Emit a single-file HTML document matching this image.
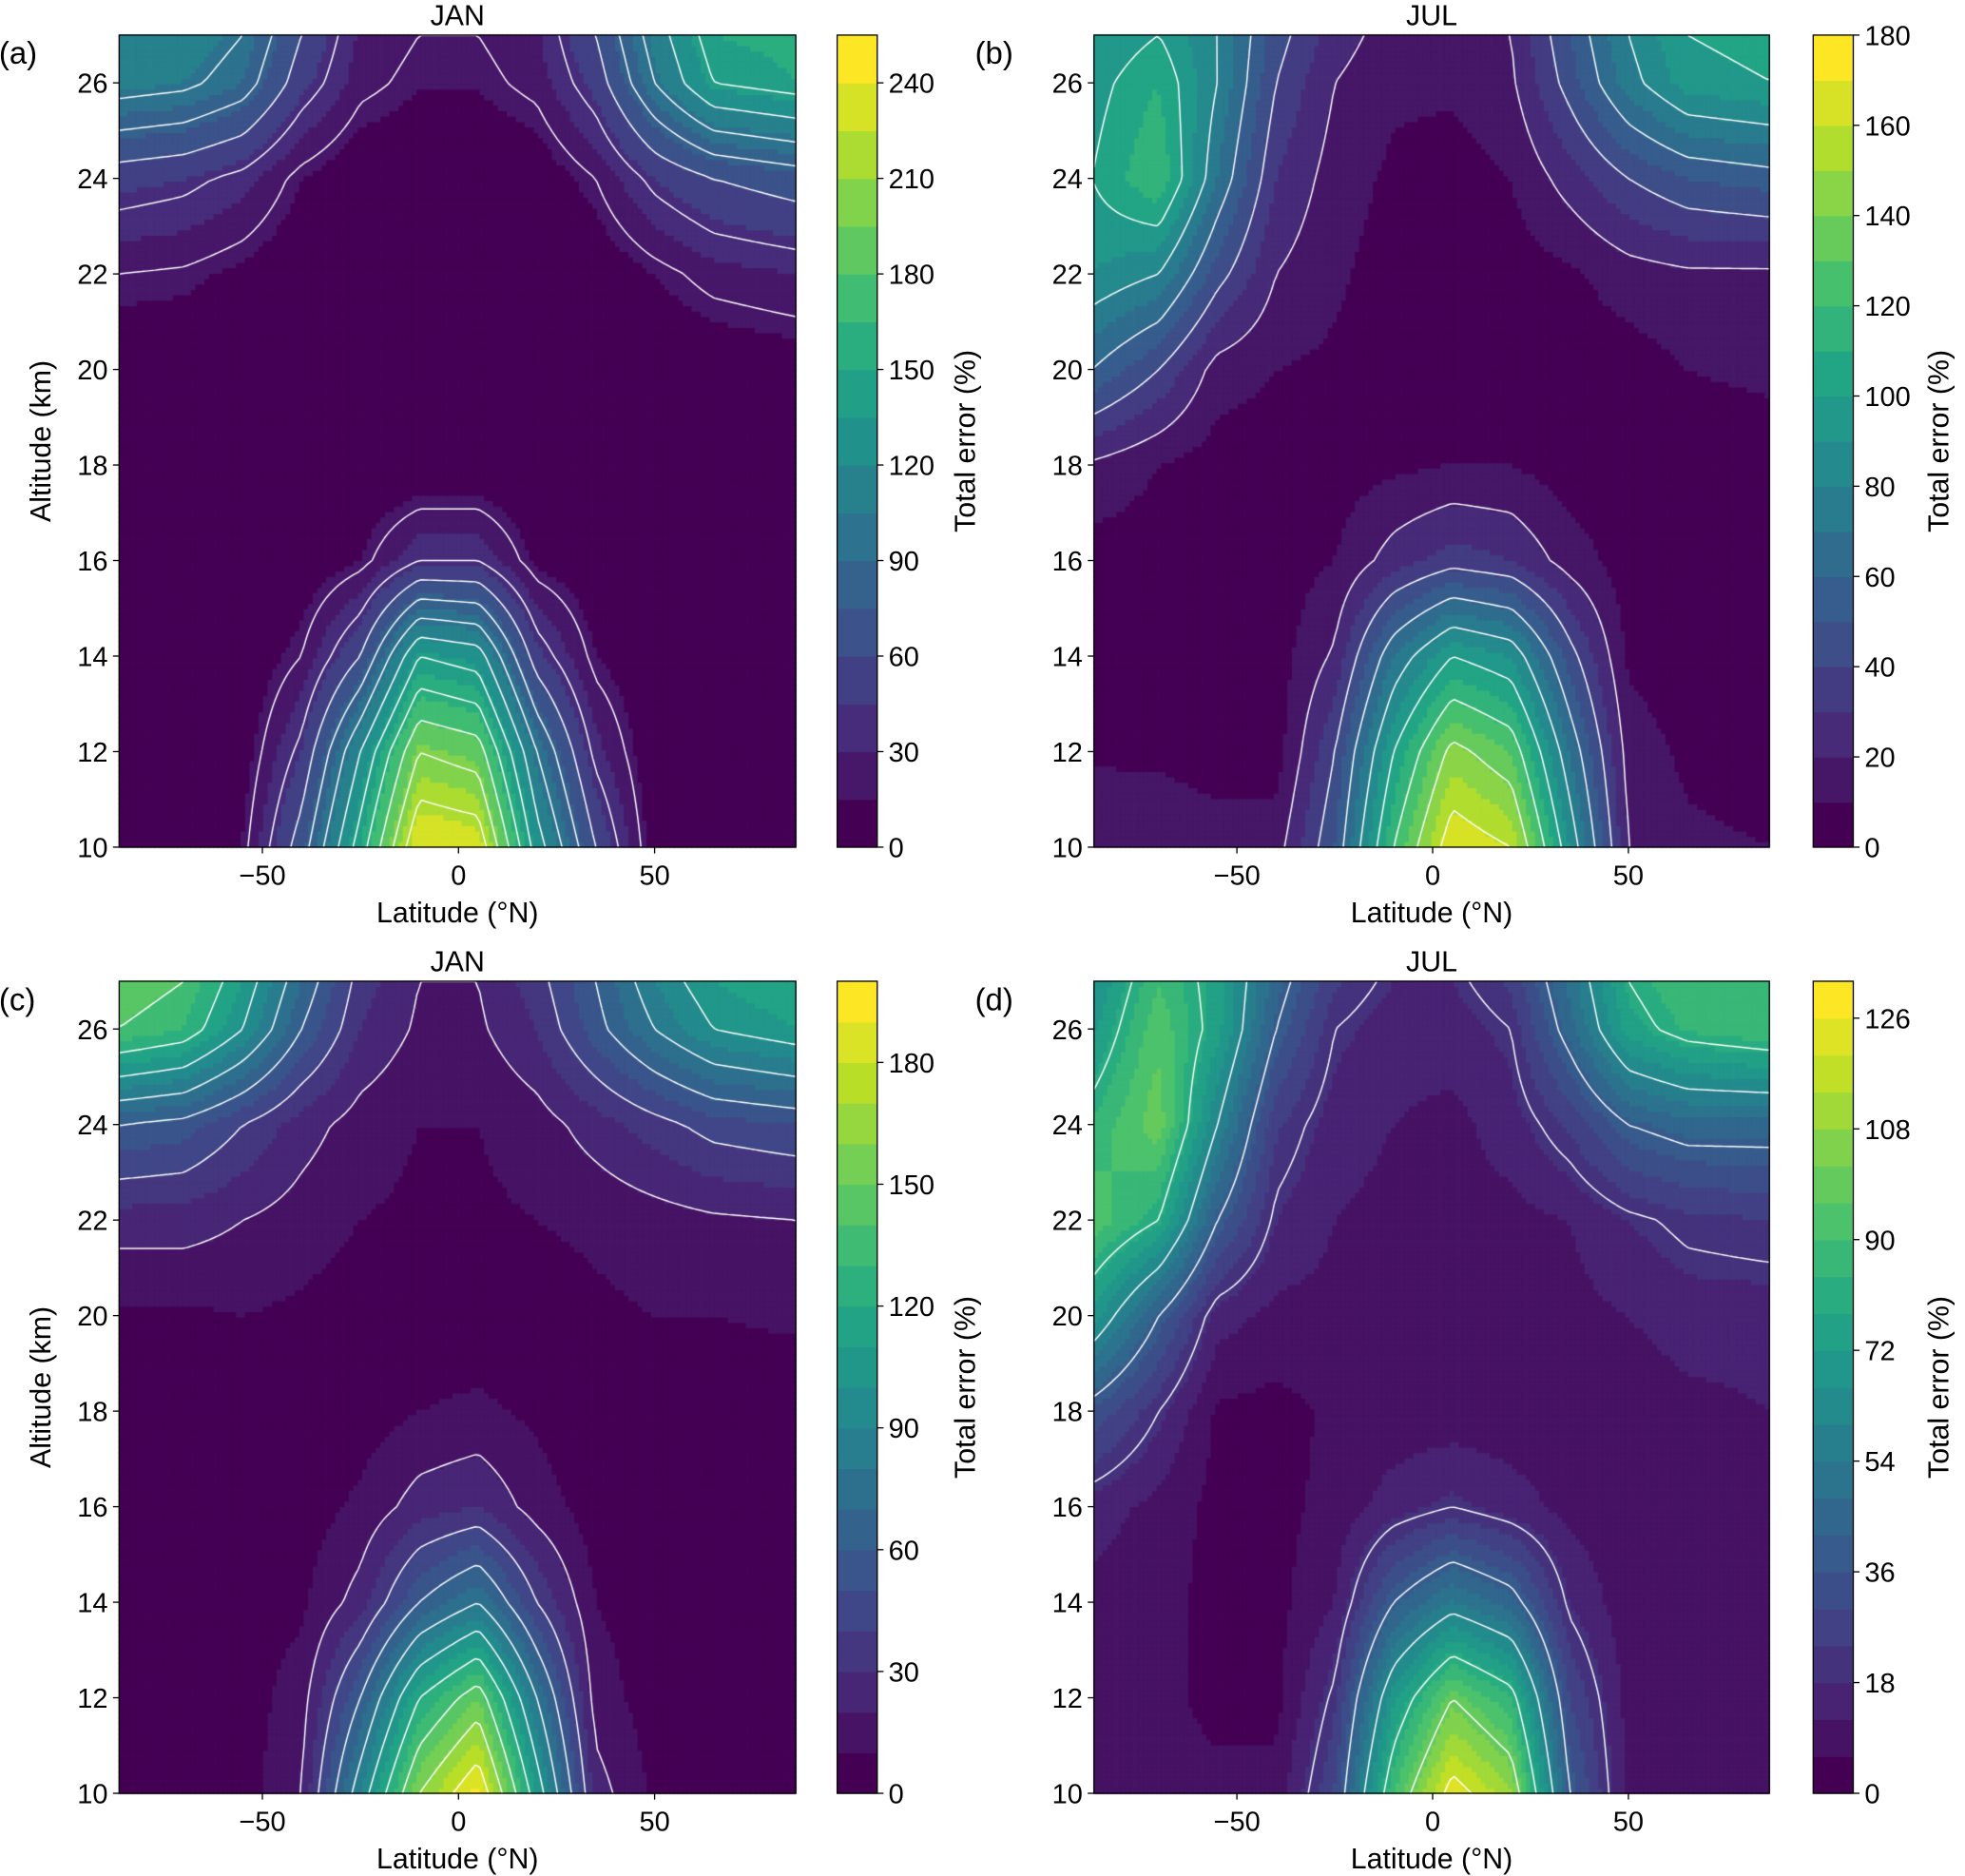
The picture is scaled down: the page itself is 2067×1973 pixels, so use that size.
<!DOCTYPE html>
<html><head><meta charset="utf-8">
<style>
html,body{margin:0;padding:0;background:#fff;}
#wrap{position:relative;width:2067px;height:1973px;overflow:hidden;}
canvas,svg{position:absolute;left:0;top:0;}
text{font-family:"Liberation Sans","DejaVu Sans",sans-serif;fill:#000;}
</style></head>
<body>
<div id="wrap">
<canvas id="cv" width="2067" height="1973"></canvas>
<svg id="sv" width="2067" height="1973" viewBox="0 0 1568 1497"></svg>
</div>
<script>
// ---- data (rows = altitude, cols = latitude) ----
const lats = [-87, -70, -55, -40, -25, -10, 5, 20, 35, 50, 65, 87];
const alts = [10, 12, 14, 16, 18, 20, 22, 24, 26, 27];
const dataA = [
[3,3,15,70,150,240,235,130,60,8,3,3],
[3,3,8,45,120,200,190,100,35,5,3,3],
[3,3,4,20,60,140,130,50,15,4,3,3],
[3,3,3,5,15,40,40,12,5,3,3,3],
[3,3,3,3,3,3,3,3,3,3,3,3],
[5,5,3,3,3,3,3,3,3,3,5,8],
[20,18,12,5,3,3,3,3,5,15,25,30],
[50,45,35,15,5,3,3,6,20,45,60,70],
[110,105,90,50,24,16,16,24,50,100,140,150],
[120,115,100,60,28,20,20,28,60,110,150,155]];
const dataB = [
[20,18,15,15,50,120,170,160,90,20,12,10],
[8,8,5,5,40,100,145,130,70,15,8,5],
[5,5,5,5,22,70,100,90,45,8,5,5],
[5,5,5,5,10,25,35,30,15,5,5,5],
[18,10,5,5,5,8,10,10,5,5,5,5],
[60,40,15,10,8,5,5,5,5,5,10,12],
[90,80,45,20,12,5,5,5,8,15,18,18],
[100,120,70,30,15,8,5,10,25,40,50,55],
[95,110,80,40,20,12,12,18,45,75,95,100],
[90,100,80,45,25,15,15,20,50,80,100,105]];
const dataC = [
[3,3,5,20,90,160,195,110,25,8,5,5],
[3,3,5,15,60,120,150,80,15,5,3,3],
[3,3,5,8,25,60,80,40,10,5,3,3],
[3,3,3,5,12,25,30,15,5,3,3,3],
[3,3,3,3,5,10,12,8,3,3,3,3],
[8,8,10,8,5,4,4,5,8,10,10,12],
[25,25,20,15,10,8,8,10,12,15,18,20],
[60,55,40,25,15,10,10,15,25,35,45,50],
[140,130,100,60,30,18,18,30,55,80,100,110],
[150,140,110,70,35,20,20,35,60,90,110,120]];
const dataD = [
[8,8,8,8,30,90,125,110,40,10,8,8],
[8,8,4,4,22,70,100,85,30,10,8,8],
[10,8,4,4,12,40,55,45,18,8,8,8],
[15,10,4,4,8,15,20,15,10,8,8,8],
[35,20,5,4,7,8,8,8,8,8,10,12],
[70,40,15,10,10,8,8,8,10,12,15,15],
[95,80,40,18,12,10,10,10,12,18,22,24],
[85,100,60,25,15,12,10,15,25,40,45,45],
[70,95,75,40,20,15,15,20,45,75,85,90],
[65,90,75,45,25,18,18,25,50,80,90,90]];
const cbTicksA = [0,30,60,90,120,150,180,210,240];
const cbTicksB = [0,20,40,60,80,100,120,140,160,180];
const cbTicksC = [0,30,60,90,120,150,180];
const cbTicksD = [0,18,36,54,72,90,108,126];
const xTicks = [-50, 0, 50];
const yTicks = [10,12,14,16,18,20,22,24,26];

const S = 2067/1568;
const panels = [
 {k:'a',x0:95,x1:635,y0:28,y1:676,cb:668,vmax:255,step:15,ticks:cbTicksA,title:'JAN',data:dataA,ylab:true,cbl:778},
 {k:'b',x0:873,x1:1412,y0:28,y1:676,cb:1447,vmax:180,step:10,ticks:cbTicksB,title:'JUL',data:dataB,ylab:false,cbl:1555},
 {k:'c',x0:95,x1:635,y0:783,y1:1431,cb:668,vmax:200,step:10,ticks:cbTicksC,title:'JAN',data:dataC,ylab:true,cbl:778},
 {k:'d',x0:873,x1:1412,y0:783,y1:1431,cb:1447,vmax:132,step:6,ticks:cbTicksD,title:'JUL',data:dataD,ylab:false,cbl:1555}];
const LAT0=-86.5, LAT1=86, ALT0=10, ALT1=27;

const vir=[[68,1,84],[72,36,117],[65,68,135],[53,95,141],[42,120,142],[33,145,140],[34,168,132],[68,191,112],[122,209,81],[189,223,38],[253,231,37]];
function cmap(t){t=Math.max(0,Math.min(1,t));const f=t*10,i=Math.min(9,Math.floor(f)),r=f-i;
 const c=vir[i].map((v,j)=>Math.round(v+(vir[i+1][j]-v)*r));return `rgb(${c[0]},${c[1]},${c[2]})`;}
function interp1(arr,v){let i=0;while(i<arr.length-2&&v>arr[i+1])i++;let t=(v-arr[i])/(arr[i+1]-arr[i]);return [i,Math.max(0,Math.min(1,t))];}
function sample(d,lat,alt){const [i,ti]=interp1(lats,lat),[j,tj]=interp1(alts,alt);
 const a=d[j][i],b=d[j][i+1],c=d[j+1][i],e=d[j+1][i+1];
 return (a*(1-ti)+b*ti)*(1-tj)+(c*(1-ti)+e*ti)*tj;}

const cv=document.getElementById('cv'),ctx=cv.getContext('2d');ctx.scale(S,S);
const svg=document.getElementById('sv'),NS='http://www.w3.org/2000/svg';
function el(tag,attrs,txt){const e=document.createElementNS(NS,tag);for(const k in attrs)e.setAttribute(k,attrs[k]);if(txt!==undefined)e.textContent=txt;svg.appendChild(e);return e;}

panels.forEach(p=>{
 const W=p.x1-p.x0,H=p.y1-p.y0,N=150,M=150;
 const xs=lat=>p.x0+(lat-LAT0)/(LAT1-LAT0)*W, ys=alt=>p.y1-(alt-ALT0)/(ALT1-ALT0)*H;
 const nb=Math.round(p.vmax/p.step);
 const col=v=>cmap(Math.min(nb-1,Math.floor(v/p.step))/(nb-1));
 const G=[];for(let j=0;j<=M;j++){G.push([]);for(let i=0;i<=N;i++){G[j].push(sample(p.data,LAT0+(LAT1-LAT0)*i/N,ALT0+(ALT1-ALT0)*j/M));}}
 const cw=W/N,ch=H/M;
 for(let j=0;j<M;j++)for(let i=0;i<N;i++){const v=(G[j][i]+G[j][i+1]+G[j+1][i]+G[j+1][i+1])/4;
  ctx.fillStyle=col(v);ctx.fillRect(p.x0+i*cw-0.3,p.y1-(j+1)*ch-0.3,cw+0.6,ch+0.6);}
 ctx.strokeStyle='#fff';ctx.lineWidth=1.1;ctx.beginPath();
 for(let L=20;L<p.vmax;L+=20){
  for(let j=0;j<M;j++)for(let i=0;i<N;i++){
   const c=[[i,j,G[j][i]],[i+1,j,G[j][i+1]],[i+1,j+1,G[j+1][i+1]],[i,j+1,G[j+1][i]]];const pts=[];
   for(let k=0;k<4;k++){const A=c[k],B=c[(k+1)%4];if((A[2]<L)!==(B[2]<L)){const t=(L-A[2])/(B[2]-A[2]);pts.push([A[0]+(B[0]-A[0])*t,A[1]+(B[1]-A[1])*t]);}}
   for(let q=0;q+1<pts.length;q+=2){ctx.moveTo(p.x0+pts[q][0]*cw,p.y1-pts[q][1]*ch);ctx.lineTo(p.x0+pts[q+1][0]*cw,p.y1-pts[q+1][1]*ch);}
  }}
 ctx.stroke();
 const fr=el('rect',{x:p.x0,y:p.y0,width:W,height:H,fill:'none',stroke:'#000','stroke-width':1});
 
 xTicks.forEach(t=>{const x=xs(t);el('line',{x1:x,x2:x,y1:p.y1,y2:p.y1+5,stroke:'#000'});
  const tx=el('text',{x:x,y:p.y1+30,'font-size':22,'text-anchor':'middle'},t<0?'\u2212'+(-t):String(t));
  });
 yTicks.forEach(t=>{const y=ys(t);el('line',{x1:p.x0-5,x2:p.x0,y1:y,y2:y,stroke:'#000'});
  const tx=el('text',{x:p.x0-9,y:y+8,'font-size':22,'text-anchor':'end'},String(t));
  });
 const xl=el('text',{x:(p.x0+p.x1)/2,y:p.y1+60,'font-size':23,'text-anchor':'middle'},'Latitude (°N)');
 
 if(p.ylab){const yl=el('text',{x:0,y:0,'font-size':23,'text-anchor':'middle',transform:`translate(40,${(p.y0+p.y1)/2}) rotate(-90)`},'Altitude (km)');
  }
 const ti=el('text',{x:(p.x0+p.x1)/2,y:p.y0-8,'font-size':23,'text-anchor':'middle'},p.title);
 
 const pl=el('text',{x:p.x0===95?-1:778,y:p.y0+23,'font-size':25},'('+p.k+')');
 
 const cbw=32,cy=v=>p.y1-v/p.vmax*H;
 for(let b=0;b<nb;b++){const r=el('rect',{x:p.cb,y:cy((b+1)*p.step),width:cbw,height:cy(b*p.step)-cy((b+1)*p.step)+0.5,fill:cmap(b/(nb-1))});
  }
 el('rect',{x:p.cb,y:p.y0,width:cbw,height:H,fill:'none',stroke:'#000'});
 p.ticks.forEach(t=>{const y=cy(t);el('line',{x1:p.cb+cbw,x2:p.cb+cbw+5,y1:y,y2:y,stroke:'#000'});
  const tx=el('text',{x:p.cb+cbw+9,y:y+8,'font-size':22},String(t));
  });
 const cl=el('text',{x:0,y:0,'font-size':23,'text-anchor':'middle',transform:`translate(${p.cbl},${(p.y0+p.y1)/2}) rotate(-90)`},'Total error (%)');
 
});
</script>
</body></html>
